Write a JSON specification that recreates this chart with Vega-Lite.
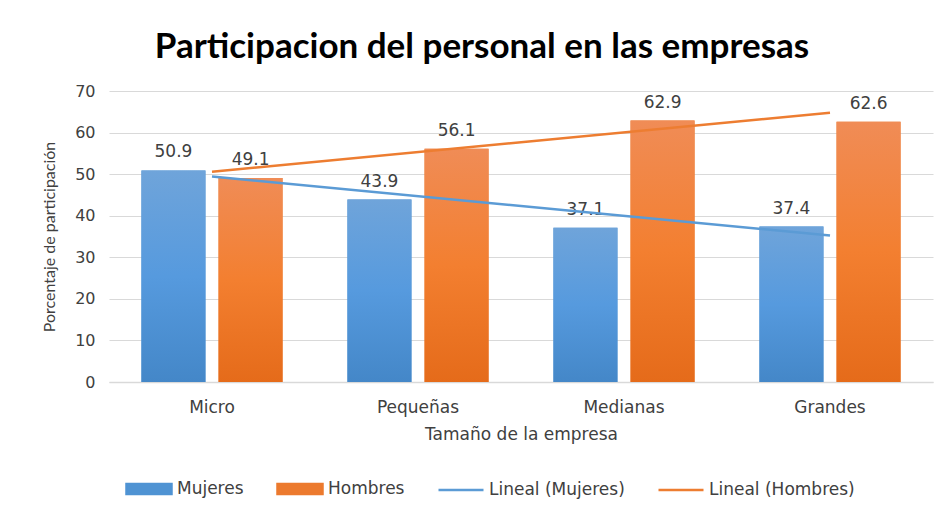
{
  "$schema": "https://vega.github.io/schema/vega-lite/v6.json",
  "width": 824,
  "height": 291,
  "autosize": "none",
  "padding": {"left": 109, "top": 91, "right": 11, "bottom": 130},
  "background": "white",
  "title": {
    "text": "Participacion del personal en las empresas",
    "font": "Lato",
    "fontSize": 35,
    "fontWeight": "bold",
    "color": "#000000",
    "anchor": "middle",
    "dx": -39,
    "offset": 18
  },
  "config": {
    "view": {"stroke": null},
    "axis": {"labelFont": "DejaVu Sans", "titleFont": "DejaVu Sans", "labelColor": "#595959", "titleColor": "#404040", "titleFontWeight": "normal"}
  },
  "data": {
    "values": [
      {"cat": "Micro", "idx": 1, "serie": "Mujeres", "trend": "Lineal (Mujeres)", "value": 50.9},
      {"cat": "Micro", "idx": 1, "serie": "Hombres", "trend": "Lineal (Hombres)", "value": 49.1},
      {"cat": "Pequeñas", "idx": 2, "serie": "Mujeres", "trend": "Lineal (Mujeres)", "value": 43.9},
      {"cat": "Pequeñas", "idx": 2, "serie": "Hombres", "trend": "Lineal (Hombres)", "value": 56.1},
      {"cat": "Medianas", "idx": 3, "serie": "Mujeres", "trend": "Lineal (Mujeres)", "value": 37.1},
      {"cat": "Medianas", "idx": 3, "serie": "Hombres", "trend": "Lineal (Hombres)", "value": 62.9},
      {"cat": "Grandes", "idx": 4, "serie": "Mujeres", "trend": "Lineal (Mujeres)", "value": 37.4},
      {"cat": "Grandes", "idx": 4, "serie": "Hombres", "trend": "Lineal (Hombres)", "value": 62.6}
    ]
  },
  "encoding": {
    "x": {
      "field": "cat",
      "type": "nominal",
      "sort": ["Micro", "Pequeñas", "Medianas", "Grandes"],
      "scale": {"paddingInner": 0.315, "paddingOuter": 0.1575},
      "axis": {
        "title": "Tamaño de la empresa",
        "labelAngle": 0,
        "labelFontSize": 17,
        "titleFontSize": 17,
        "labelPadding": 17,
        "titlePadding": 11,
        "ticks": false,
        "domainColor": "#d9d9d9",
        "domainWidth": 1.5,
        "labelColor": "#404040"
      }
    },
    "y": {
      "field": "value",
      "type": "quantitative",
      "scale": {"domain": [0, 70]},
      "axis": {
        "title": "Porcentaje de participación",
        "titleFont": "Lato",
        "titleFontSize": 16,
        "titlePadding": 17,
        "values": [0, 10, 20, 30, 40, 50, 60, 70],
        "labelFontSize": 16,
        "labelPadding": 14,
        "ticks": false,
        "domain": false,
        "gridColor": "#d9d9d9",
        "labelColor": "#404040"
      }
    }
  },
  "layer": [
    {
      "mark": {"type": "bar"},
      "encoding": {
        "xOffset": {"field": "serie", "type": "nominal", "sort": ["Mujeres", "Hombres"], "scale": {"paddingInner": 0.17, "paddingOuter": 0}},
        "color": {
          "field": "serie",
          "type": "nominal",
          "scale": {
            "domain": ["Mujeres", "Hombres", "Lineal (Mujeres)", "Lineal (Hombres)"],
            "range": ["#4f93d3", "#EC7A2E", "#5B9BD5", "#ED7D31"]
          },
          "legend": {
            "title": null,
            "orient": "none",
            "legendX": 16,
            "legendY": 374,
            "direction": "horizontal",
            "columns": 4,
            "columnPadding": 28,
            "labelFont": "DejaVu Sans",
            "labelFontSize": 17,
            "labelColor": "#404040",
            "labelOffset": 4,
            "symbolSize": 2025,
            "symbolStrokeWidth": 2.5,
            "symbolType": {"expr": "indexof(['Mujeres','Hombres'], datum.value) >= 0 ? 'M-1,-0.22H1V0.22H-1Z' : 'stroke'"}
          }
        }
      }
    },
    {
      "transform": [{"filter": "datum.serie === 'Mujeres'"}],
      "mark": {
        "type": "bar",
        "color": {"gradient": "linear", "x1": 0, "y1": 0, "x2": 0, "y2": 1, "stops": [{"offset": 0, "color": "#6fa4da"}, {"offset": 0.5, "color": "#569ade"}, {"offset": 1, "color": "#4487c8"}]}
      },
      "encoding": {
        "xOffset": {"field": "serie", "type": "nominal", "sort": ["Mujeres", "Hombres"]}
      }
    },
    {
      "transform": [{"filter": "datum.serie === 'Hombres'"}],
      "mark": {
        "type": "bar",
        "color": {"gradient": "linear", "x1": 0, "y1": 0, "x2": 0, "y2": 1, "stops": [{"offset": 0, "color": "#f08c56"}, {"offset": 0.5, "color": "#f37f30"}, {"offset": 1, "color": "#e56b1a"}]}
      },
      "encoding": {
        "xOffset": {"field": "serie", "type": "nominal", "sort": ["Mujeres", "Hombres"]}
      }
    },
    {
      "mark": {"type": "text", "baseline": "bottom", "dy": -9, "font": "DejaVu Sans", "fontSize": 17, "color": "#404040"},
      "encoding": {
        "xOffset": {"field": "serie", "type": "nominal", "sort": ["Mujeres", "Hombres"]},
        "text": {"field": "value", "type": "quantitative", "format": ".1f"}
      }
    },
    {
      "transform": [
        {"regression": "value", "on": "idx", "groupby": ["trend"]},
        {"lookup": "idx", "from": {"data": {"values": [{"idx": 1, "cat": "Micro"}, {"idx": 2, "cat": "Pequeñas"}, {"idx": 3, "cat": "Medianas"}, {"idx": 4, "cat": "Grandes"}]}, "key": "idx", "fields": ["cat"]}}
      ],
      "mark": {"type": "line", "strokeWidth": 2.5},
      "encoding": {
        "color": {"field": "trend", "type": "nominal"}
      }
    }
  ]
}
